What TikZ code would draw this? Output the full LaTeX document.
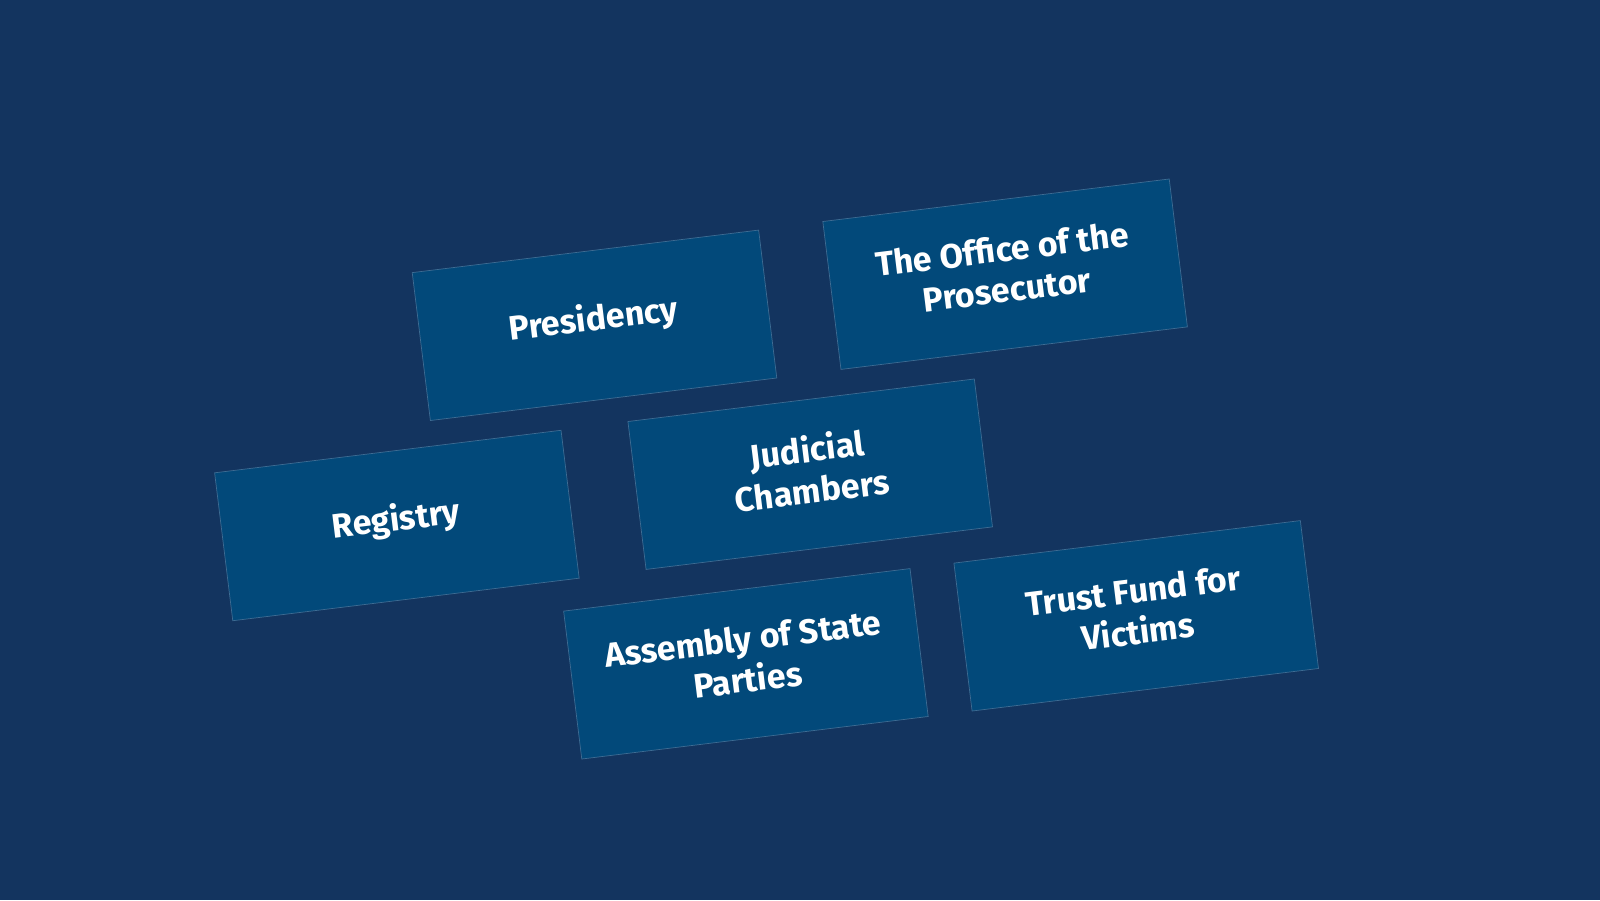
\documentclass[tikz,border=0pt]{standalone}
\usepackage{fontspec}
\setmainfont{Fira Sans}
\definecolor{bgc}{HTML}{13345F}
\definecolor{boxc}{HTML}{02497A}
\definecolor{edgec}{HTML}{3E6C93}
\tikzset{
  unit/.style={rectangle, rotate=7, minimum width=349pt, minimum height=149pt,
    fill=boxc, draw=edgec, line width=0.7pt},
  lbl/.style={rotate=7, text=white, align=center, inner sep=0pt,
    font=\fontsize{34}{41}\selectfont\bfseries}
}
\begin{document}
\begin{tikzpicture}[x=1pt,y=-1pt]
\fill[bgc] (0,0) rectangle (1600,900);
\useasboundingbox (0,0) rectangle (1600,900);
\node[unit] (pres) at (594.5,325.3) {};
\node[unit] (otp) at (1005.1,274.2) {};
\node[unit] (jud) at (810.2,474.2) {};
\node[unit] (reg) at (396.9,525.5) {};
\node[unit] (asp) at (745.9,663.8) {};
\node[unit] (tfv) at (1136.2,615.8) {};
\node[lbl] (presT) at ([shift={(-0.6,-5)}]pres.center) {Presidency};
\node[lbl] (otpT) at ([shift={(-0.6,-5)}]otp.center) {The Office of the\\Prosecutor};
\node[lbl] (judT) at ([shift={(-0.6,-5)}]jud.center) {Judicial\\Chambers};
\node[lbl] (regT) at ([shift={(-0.6,-5)}]reg.center) {Registry};
\node[lbl] (aspT) at ([shift={(-0.6,-5)}]asp.center) {Assembly of State\\Parties};
\node[lbl] (tfvT) at ([shift={(-0.6,-5)}]tfv.center) {Trust Fund for\\Victims};
\end{tikzpicture}
\end{document}
